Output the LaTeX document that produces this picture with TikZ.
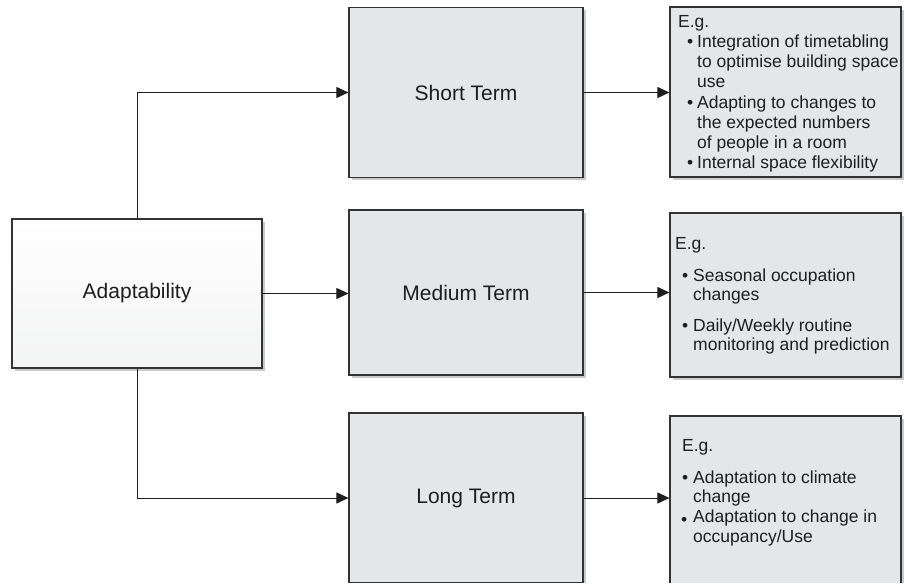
\documentclass[tikz,border=0pt]{standalone}
\usepackage{fontspec}
\setmainfont{Liberation Sans}
\usetikzlibrary{arrows.meta,shadows}
\definecolor{edge}{HTML}{333333}
\definecolor{ink}{HTML}{1E1E1E}
\definecolor{boxfill}{HTML}{E5E6E8}
\definecolor{shade}{HTML}{C9CACC}
\tikzset{
  box/.style={draw=edge, line width=1.2pt, inner sep=0pt, text=ink,
    font=\fontsize{21}{25}\selectfont,
    drop shadow={shadow xshift=2.5pt, shadow yshift=-2.5pt, fill=shade, opacity=1}},
  termbox/.style={box, fill=boxfill, minimum width=234pt},
  infobox/.style={box, fill=boxfill, minimum width=231pt},
  rootbox/.style={box, top color=white, bottom color=boxfill!45, minimum width=250pt, minimum height=149pt},
  arr/.style={draw=ink, line width=1pt, -{Triangle[length=12pt,width=11pt]}},
  txt/.style={anchor=base west, inner sep=0pt, text=ink, font=\fontsize{17.5}{20}\selectfont},
  bul/.style={anchor=base west, inner sep=0pt, text=ink, font=\fontsize{17.5}{20}\selectfont},
}
\begin{document}
\begin{tikzpicture}[x=1pt,y=-1pt]
\useasboundingbox (0,0) rectangle (905,584);
\fill[white] (0,0) rectangle (905,584);
\clip (0,0) rectangle (905,582);
% boxes
\node[rootbox] (adapt) at (137,293.5) {Adaptability};
\node[termbox, minimum height=170pt] (short) at (466,92.5) {Short Term};
\node[termbox, minimum height=165pt] (medium) at (466,292.5) {Medium Term};
\node[termbox, minimum height=170pt] (long) at (466,498) {Long Term};
\node[infobox, minimum height=170pt] (rshort) at (785.5,92) {};
\node[infobox, minimum height=164pt] (rmedium) at (785.5,295) {};
\node[infobox, minimum height=184pt] (rlong) at (785.5,508) {};
% connectors
\draw[arr] (adapt.north) |- (short.west);
\draw[arr] (adapt.east) -- (adapt.east -| medium.west);
\draw[arr] (adapt.south) |- (long.west);
\draw[arr] (short.east) -- (short.east -| rshort.west);
\draw[arr] (medium.east) -- (medium.east -| rmedium.west);
\draw[arr] (long.east) -- (long.east -| rlong.west);
% short term examples
\node[txt] (s0) at (678,27) {E.g.};
\node[bul] (sb1) at (687,47) {\textbullet};
\node[txt] (s1) at (697,47) {Integration of timetabling};
\node[txt] (s2) at (697,67) {to optimise building space};
\node[txt] (s3) at (697,87) {use};
\node[bul] (sb2) at (687,108) {\textbullet};
\node[txt] (s4) at (697,108) {Adapting to changes to};
\node[txt] (s5) at (697,128) {the expected numbers};
\node[txt] (s6) at (697,148) {of people in a room};
\node[bul] (sb3) at (687,168) {\textbullet};
\node[txt] (s7) at (697,168) {Internal space flexibility};
% medium term examples
\node[txt] (m0) at (675,249) {E.g.};
\node[bul] (mb1) at (682,281) {\textbullet};
\node[txt] (m1) at (693,281) {Seasonal occupation};
\node[txt] (m2) at (693,300) {changes};
\node[bul] (mb2) at (682,331) {\textbullet};
\node[txt] (m3) at (693,331) {Daily/Weekly routine};
\node[txt] (m4) at (693,350) {monitoring and prediction};
% long term examples
\node[txt] (l0) at (682,451) {E.g.};
\node[bul] (lb1) at (682,483) {\textbullet};
\node[txt] (l1) at (693,483) {Adaptation to climate};
\node[txt] (l2) at (693,502) {change};
\node[bul] (lb2) at (681,525) {\textbullet};
\node[txt] (l3) at (693,522) {Adaptation to change in};
\node[txt] (l4) at (693,542) {occupancy/Use};
\end{tikzpicture}
\end{document}
